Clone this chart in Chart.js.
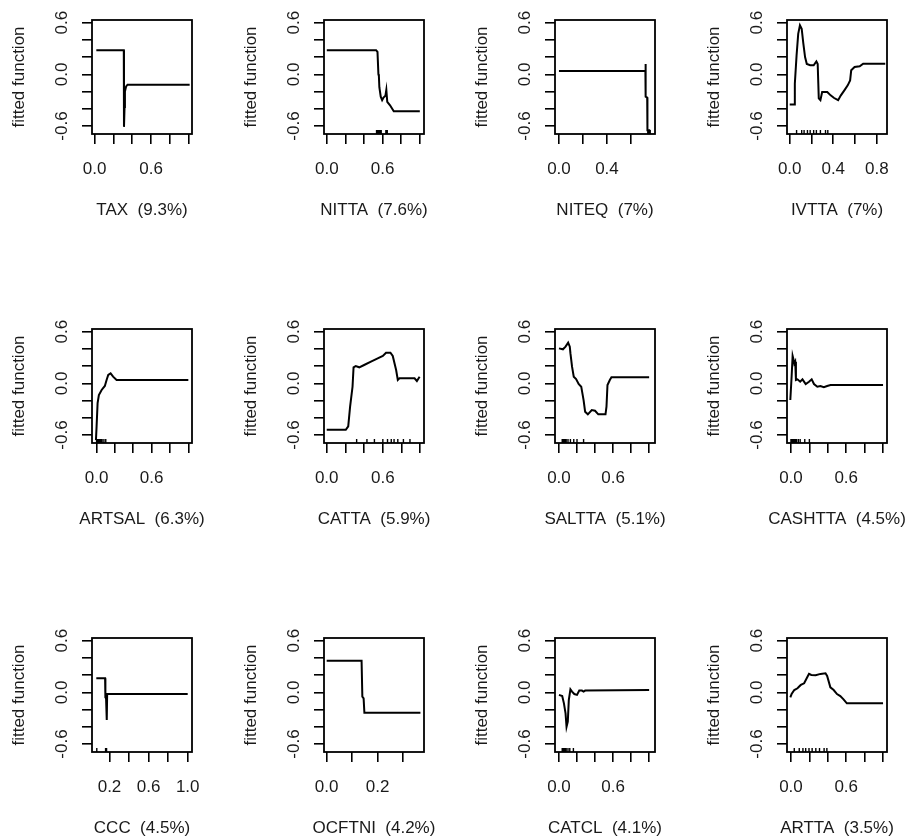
<!DOCTYPE html>
<html>
<head>
<meta charset="utf-8">
<title>fitted functions</title>
<script src="https://cdn.jsdelivr.net/npm/chart.js@4.4.1/dist/chart.umd.min.js"></script>
<style>
  html, body { margin: 0; padding: 0; background: #fff; overflow: hidden; }
  #wrap { position: relative; width: 912px; height: 840px; }
  #wrap canvas { position: absolute; }
</style>
</head>
<body>
<div id="wrap"></div>
<script>
// names and relative influence (%)
const varNames = ['TAX', 'NITTA', 'NITEQ', 'IVTTA', 'ARTSAL', 'CATTA', 'SALTTA', 'CASHTTA', 'CCC', 'OCFTNI', 'CATCL', 'ARTTA'];
const relInf = ['9.3', '7.6', '7', '7', '6.3', '5.9', '5.1', '4.5', '4.5', '4.2', '4.1', '3.5'];

// y axis, shared by all panels
const yTicks = [-0.6, -0.4, -0.2, 0, 0.2, 0.4, 0.6];
const yTickLabels = [-0.6, 0, 0.6];

// x axis ticks
const xTicksUnit = [0, 0.2, 0.4, 0.6, 0.8, 1.0];
const xLabelsUnit = [0, 0.6];
const xTicksNiteq = [0, 0.2, 0.4, 0.6];
const xLabelsNiteq = [0, 0.4];
const xTicksIvtta = [0, 0.2, 0.4, 0.6, 0.8];
const xLabelsIvtta = [0, 0.4, 0.8];
const xTicksCcc = [0.2, 0.4, 0.6, 0.8, 1.0];
const xLabelsCcc = [0.2, 0.6, 1.0];
const xTicksOcftni = [0, 0.1, 0.2, 0.3];
const xLabelsOcftni = [0, 0.2];

// fitted function curves
const taxX = [0.018, 0.31, 0.312, 0.318, 0.322, 0.335, 0.35, 1.01];
const taxY = [0.28, 0.28, -0.61, -0.38, -0.2, -0.14, -0.12, -0.12];
const taxRug = [];

const nittaX = [0.0, 0.53, 0.545, 0.555, 0.56, 0.565, 0.58, 0.595, 0.61, 0.63, 0.64, 0.65, 0.68, 0.72, 1.0];
const nittaY = [0.28, 0.28, 0.26, 0.0, -0.02, -0.15, -0.26, -0.30, -0.27, -0.25, -0.18, -0.32, -0.36, -0.43, -0.43];
const nittaRug = [0.535, 0.545, 0.555, 0.565, 0.575, 0.585, 0.635, 0.65];

const niteqX = [0.0, 0.72, 0.721, 0.723, 0.735, 0.737, 0.76];
const niteqY = [0.04, 0.04, 0.12, -0.26, -0.27, -0.65, -0.65];
const niteqRug = [0.74, 0.75, 0.755, 0.76];

const ivttaX = [0.0, 0.04, 0.047, 0.063, 0.078, 0.094, 0.11, 0.125, 0.141, 0.157, 0.188, 0.22, 0.245, 0.257, 0.267, 0.282, 0.298, 0.345, 0.376, 0.408, 0.445, 0.47, 0.502, 0.533, 0.555, 0.565, 0.596, 0.643, 0.675, 0.878];
const ivttaY = [-0.35, -0.35, -0.11, 0.22, 0.47, 0.57, 0.53, 0.36, 0.2, 0.12, 0.105, 0.105, 0.15, 0.12, -0.28, -0.3, -0.205, -0.205, -0.244, -0.275, -0.3, -0.244, -0.186, -0.128, -0.07, 0.047, 0.085, 0.093, 0.124, 0.124];
const ivttaRug = [0.063, 0.11, 0.132, 0.163, 0.188, 0.22, 0.245, 0.282, 0.329, 0.35];

const artsalX = [-0.007, 0.0, 0.011, 0.025, 0.055, 0.09, 0.109, 0.127, 0.153, 0.18, 0.218, 1.0];
const artsalY = [-0.66, -0.5, -0.23, -0.136, -0.077, -0.031, 0.039, 0.097, 0.116, 0.077, 0.039, 0.039];
const artsalRug = [0.0, 0.01, 0.02, 0.03, 0.045, 0.06, 0.08, 0.1];

const cattaX = [0.0, 0.204, 0.23, 0.25, 0.276, 0.287, 0.31, 0.348, 0.4, 0.473, 0.545, 0.6, 0.634, 0.681, 0.706, 0.742, 0.76, 0.778, 0.939, 0.964, 0.993];
const cattaY = [-0.54, -0.54, -0.5, -0.27, -0.04, 0.186, 0.2, 0.186, 0.213, 0.252, 0.29, 0.318, 0.356, 0.356, 0.318, 0.155, 0.039, 0.058, 0.058, 0.027, 0.077];
const cattaRug = [0.32, 0.43, 0.51, 0.6, 0.65, 0.69, 0.72, 0.76, 0.82, 0.89];

const salttaX = [0.0, 0.044, 0.073, 0.102, 0.12, 0.127, 0.145, 0.164, 0.19, 0.218, 0.247, 0.273, 0.29, 0.32, 0.364, 0.4, 0.436, 0.516, 0.527, 0.538, 0.564, 0.582, 1.0];
const salttaY = [0.406, 0.395, 0.426, 0.473, 0.426, 0.35, 0.194, 0.077, 0.05, -0.008, -0.039, -0.194, -0.33, -0.36, -0.31, -0.318, -0.36, -0.36, -0.27, -0.02, 0.039, 0.07, 0.07];
const salttaRug = [0.036, 0.05, 0.065, 0.08, 0.1, 0.127, 0.164, 0.2, 0.273];

const cashttaX = [-0.007, 0.007, 0.018, 0.029, 0.036, 0.046, 0.054, 0.071, 0.1, 0.125, 0.16, 0.196, 0.225, 0.25, 0.286, 0.32, 0.357, 0.393, 0.43, 1.0];
const cashttaY = [-0.194, 0.077, 0.318, 0.27, 0.23, 0.252, 0.039, 0.046, 0.019, 0.046, -0.008, 0.019, 0.046, -0.008, -0.039, -0.031, -0.046, -0.031, -0.02, -0.02];
const cashttaRug = [0.0, 0.01, 0.02, 0.03, 0.045, 0.06, 0.08, 0.1, 0.15, 0.2];

const cccX = [0.065, 0.155, 0.158, 0.165, 0.172, 0.176, 1.0];
const cccY = [0.163, 0.163, -0.06, -0.07, -0.32, -0.02, -0.02];
const cccRug = [0.07, 0.16, 0.17];

const ocftniX = [0.0, 0.137, 0.14, 0.145, 0.148, 0.368];
const ocftniY = [0.366, 0.366, -0.05, -0.07, -0.237, -0.237];
const ocftniRug = [];

const catclX = [0.0, 0.036, 0.055, 0.073, 0.084, 0.098, 0.109, 0.127, 0.145, 0.17, 0.2, 0.225, 0.255, 0.273, 0.29, 1.0];
const catclY = [-0.03, -0.043, -0.128, -0.245, -0.4, -0.34, -0.09, 0.035, 0.008, -0.02, -0.03, 0.02, 0.02, 0.008, 0.02, 0.027];
const catclRug = [0.036, 0.05, 0.065, 0.08, 0.1, 0.12, 0.16];

const arttaX = [-0.007, 0.007, 0.036, 0.071, 0.107, 0.143, 0.171, 0.196, 0.221, 0.268, 0.321, 0.375, 0.393, 0.428, 0.464, 0.5, 0.536, 0.571, 0.607, 1.0];
const arttaY = [-0.058, -0.02, 0.027, 0.047, 0.086, 0.105, 0.163, 0.214, 0.202, 0.198, 0.214, 0.222, 0.19, 0.058, 0.027, -0.02, -0.043, -0.082, -0.128, -0.128];
const arttaRug = [0.036, 0.09, 0.13, 0.16, 0.196, 0.23, 0.27, 0.31, 0.36, 0.39];

// panel setup, in reading order
const panels = [
  { xs: taxX, ys: taxY, rug: taxRug, min: -0.028, max: 1.035, ticks: xTicksUnit, labels: xLabelsUnit },
  { xs: nittaX, ys: nittaY, rug: nittaRug, min: -0.03, max: 1.045, ticks: xTicksUnit, labels: xLabelsUnit },
  { xs: niteqX, ys: niteqY, rug: niteqRug, min: -0.033, max: 0.8, ticks: xTicksNiteq, labels: xLabelsNiteq },
  { xs: ivttaX, ys: ivttaY, rug: ivttaRug, min: -0.025, max: 0.894, ticks: xTicksIvtta, labels: xLabelsIvtta },
  { xs: artsalX, ys: artsalY, rug: artsalRug, min: -0.05, max: 1.04, ticks: xTicksUnit, labels: xLabelsUnit },
  { xs: cattaX, ys: cattaY, rug: cattaRug, min: -0.029, max: 1.04, ticks: xTicksUnit, labels: xLabelsUnit },
  { xs: salttaX, ys: salttaY, rug: salttaRug, min: -0.044, max: 1.065, ticks: xTicksUnit, labels: xLabelsUnit },
  { xs: cashttaX, ys: cashttaY, rug: cashttaRug, min: -0.043, max: 1.043, ticks: xTicksUnit, labels: xLabelsUnit },
  { xs: cccX, ys: cccY, rug: cccRug, min: 0.021, max: 1.044, ticks: xTicksCcc, labels: xLabelsCcc },
  { xs: ocftniX, ys: ocftniY, rug: ocftniRug, min: -0.0105, max: 0.382, ticks: xTicksOcftni, labels: xLabelsOcftni },
  { xs: catclX, ys: catclY, rug: catclRug, min: -0.044, max: 1.065, ticks: xTicksUnit, labels: xLabelsUnit },
  { xs: arttaX, ys: arttaY, rug: arttaRug, min: -0.043, max: 1.043, ticks: xTicksUnit, labels: xLabelsUnit }
];

const colLeft = [0, 232, 463, 695];
const rowTop = [0, 309, 618];
const CW = 215, CH = 225;
const FONT = '17px "Liberation Sans", Arial, sans-serif';

// box, rug and the R style labels
function decor(p, title) {
  return {
    id: 'decor',
    afterDraw(chart) {
      const { ctx, chartArea: a, scales: { x, y } } = chart;
      ctx.save();
      ctx.strokeStyle = '#000';
      ctx.lineWidth = 1.8;
      ctx.strokeRect(a.left, a.top, a.right - a.left, a.bottom - a.top);

      ctx.lineWidth = 1.4;
      ctx.beginPath();
      p.rug.forEach(v => {
        const px = x.getPixelForValue(v);
        ctx.moveTo(px, a.bottom);
        ctx.lineTo(px, a.bottom - 4);
      });
      ctx.stroke();

      ctx.fillStyle = '#1a1a1a';
      ctx.font = FONT;
      ctx.textAlign = 'center';
      ctx.textBaseline = 'middle';
      p.labels.forEach(v => ctx.fillText(v.toFixed(1), x.getPixelForValue(v), a.bottom + 35));
      ctx.fillText(title, (a.left + a.right) / 2, a.bottom + 76);

      yTickLabels.forEach(v => {
        ctx.save();
        ctx.translate(a.left - 30, y.getPixelForValue(v));
        ctx.rotate(-Math.PI / 2);
        ctx.fillText(v.toFixed(1), 0, 0);
        ctx.restore();
      });
      ctx.translate(a.left - 73, (a.top + a.bottom) / 2);
      ctx.rotate(-Math.PI / 2);
      ctx.fillText('fitted function', 0, 0);
      ctx.restore();
    }
  };
}

const wrap = document.getElementById('wrap');
panels.forEach((p, i) => {
  const cv = document.createElement('canvas');
  cv.width = CW;
  cv.height = CH;
  cv.style.left = colLeft[i % 4] + 'px';
  cv.style.top = rowTop[Math.floor(i / 4)] + 'px';
  wrap.appendChild(cv);

  const tickGrid = { drawOnChartArea: false, drawTicks: true, tickLength: 10, color: '#000', lineWidth: 1.6 };

  new Chart(cv, {
    type: 'scatter',
    data: {
      datasets: [{
        data: p.xs.map((v, k) => ({ x: v, y: p.ys[k] })),
        showLine: true,
        borderColor: '#000',
        borderWidth: 2,
        pointRadius: 0,
        tension: 0
      }]
    },
    options: {
      responsive: false,
      animation: false,
      layout: { padding: { left: 0, top: 20, right: CW - 92 - 100, bottom: CH - 134 - 40 } },
      plugins: { legend: { display: false }, tooltip: { enabled: false } },
      scales: {
        x: {
          type: 'linear',
          min: p.min,
          max: p.max,
          afterBuildTicks: s => { s.ticks = p.ticks.map(v => ({ value: v })); },
          afterFit: s => { s.height = 40; },
          ticks: { display: false },
          grid: tickGrid,
          border: { display: false }
        },
        y: {
          type: 'linear',
          min: -0.693,
          max: 0.631,
          afterBuildTicks: s => { s.ticks = yTicks.map(v => ({ value: v })); },
          afterFit: s => { s.width = 92; },
          ticks: { display: false },
          grid: tickGrid,
          border: { display: false }
        }
      }
    },
    plugins: [decor(p, varNames[i] + '  (' + relInf[i] + '%)')]
  });
});
</script>
</body>
</html>
